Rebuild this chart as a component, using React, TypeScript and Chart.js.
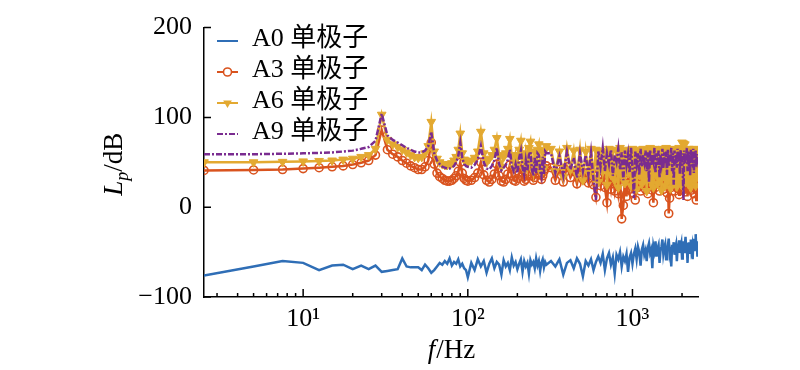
import React, { useEffect, useRef } from 'react';
import { Chart, registerables } from 'chart.js';

Chart.register(...registerables);

// Frequencies (Hz)
const freqs = [
  2.5, 5, 7.5, 10, 12.5, 15, 17.5, 20, 22.5, 25,
  27.5, 30, 32.5, 35, 37.5, 40, 42.5, 45, 47.5, 50,
  52.5, 55, 57.5, 60, 62.5, 65, 67.5, 70, 72.5, 75,
  77.5, 80, 82.5, 85, 87.5, 90, 92.5, 95, 97.5, 100,
  105, 110, 115, 120, 125, 130, 135, 140, 145, 150,
  155, 160, 165, 170, 175, 180, 185, 190, 195, 200,
  205, 210, 215, 220, 225, 230, 235, 240, 245, 250,
  255, 260, 265, 270, 275, 280, 285, 290, 295, 300,
  320, 340, 360, 380, 400, 420, 440, 460, 480, 500,
  520, 540, 560, 580, 600, 620, 640, 660, 680, 700,
  720, 740, 760, 780, 800, 820, 840, 860, 880, 900,
  920, 940, 960, 980, 1000, 1020, 1040, 1060, 1080, 1100,
  1120, 1140, 1160, 1180, 1200, 1220, 1240, 1260, 1280, 1300,
  1320, 1340, 1360, 1380, 1400, 1420, 1440, 1460, 1480, 1500,
  1520, 1540, 1560, 1580, 1600, 1620, 1640, 1660, 1680, 1700,
  1720, 1740, 1760, 1780, 1800, 1820, 1840, 1860, 1880, 1900,
  1920, 1940, 1960, 1980, 2000, 2020, 2040, 2060, 2080, 2100,
  2120, 2140, 2160, 2180, 2200, 2220, 2240, 2260, 2280, 2300,
  2320, 2340, 2360, 2380, 2400, 2420, 2440, 2460, 2480, 2500,
];

// A0 单极子 (dB)
const a0 = [
  -76, -66, -60, -62, -70, -65, -64, -69, -65, -69,
  -65, -72, -71, -70, -69, -57, -66, -67, -67, -67,
  -70, -64, -68, -73, -70, -66, -62, -64, -60, -63,
  -57, -65, -61, -63, -58, -66, -63, -68, -70, -78,
  -62, -70, -58, -66, -60, -73, -63, -57, -68, -61,
  -64, -75, -59, -66, -62, -70, -56, -65, -61, -69,
  -63, -58, -72, -60, -66, -62, -74, -59, -64, -61,
  -68, -57, -65, -60, -71, -62, -58, -67, -61, -64,
  -60, -66, -58, -75, -62, -59, -68, -57, -63, -77,
  -60, -65, -58, -70, -61, -55, -62, -52, -70, -57,
  -51, -64, -56, -74, -53, -58, -50, -66, -55, -60,
  -52, -72, -56, -51, -63, -52, -46, -58, -44, -50,
  -65, -47, -42, -53, -48, -60, -45, -40, -51, -47,
  -68, -43, -49, -38, -55, -46, -42, -62, -48, -44,
  -36, -52, -45, -41, -58, -47, -43, -35, -50, -44,
  -66, -42, -48, -39, -53, -45, -41, -60, -46, -43,
  -37, -51, -44, -40, -57, -45, -38, -50, -42, -33,
  -48, -44, -62, -41, -39, -52, -45, -36, -47, -43,
  -58, -40, -35, -49, -44, -30, -46, -42, -55, -38,
];

// A3 单极子 (dB)
const a3 = [
  41, 41.5, 42, 43, 44, 45, 46, 47.5, 49.5, 52,
  58, 86, 64, 59, 56, 52, 49, 46, 44, 42,
  42, 45, 52, 72, 48, 38, 34, 32, 30, 29,
  29, 30, 32, 35, 40, 50, 38, 32, 30, 29,
  30, 33, 38, 50, 36, 30, 28, 31, 37, 48,
  35, 29, 28, 31, 37, 47, 35, 30, 29, 32,
  38, 46, 34, 29, 31, 35, 40, 46, 35, 30,
  33, 38, 42, 45, 36, 31, 35, 40, 43, 46,
  44, 30, 42, 28, 45, 33, 40, 26, 43, 31,
  38, 27, 41, 25, 11, 36, 24, 40, 22, 5,
  34, 20, 38, 18, 30, 15, 33, -13, 2, 30,
  12, 35, 20, 38, 16, 32, 8, 36, 22, 40,
  18, 34, 25, 41, 20, 37, 15, 39, 24, 35,
  19, 5, 38, 22, 41, 26, 36, 18, 42, 24,
  39, 20, 37, 27, 40, 16, 35, -7, 10, 36,
  22, 40, 25, 38, 18, 43, 27, 35, 21, 39,
  14, 41, 26, 37, 20, 44, 24, 38, 17, 40,
  28, 36, 12, 42, 25, 39, 21, 37, 19, 43,
  23, 40, 15, 38, 26, 35, 8, 34, 40, 30,
];

// A6 单极子 (dB)
const a6 = [
  50, 50, 50.5, 51, 51.5, 52, 53, 54, 56, 58,
  65, 103, 75, 70, 67, 64, 61, 58, 56, 55,
  56, 60, 68, 95, 62, 54, 50, 48, 47, 47,
  48, 49, 52, 56, 64, 82, 60, 53, 50, 50,
  52, 55, 62, 84, 60, 50, 54, 58, 64, 77,
  58, 45, 56, 60, 65, 76, 57, 44, 58, 48,
  64, 74, 55, 42, 60, 46, 66, 73, 52, 40,
  62, 44, 64, 70, 50, 38, 62, 43, 64, 68,
  65, 40, 62, 34, 66, 42, 63, 36, 64, 30,
  62, 38, 65, 33, 64, 28, 63, 40, 62, 25,
  65, 36, 64, 30, 63, 22, 66, 35, 62, 27,
  64, 38, 63, 24, 65, 32, 62, 20, 64, 36,
  63, 26, 65, 30, 62, 18, 64, 34, 66, 28,
  63, 22, 65, 37, 62, 26, 64, 31, 63, 19,
  65, 35, 62, 24, 66, 29, 63, 33, 64, 21,
  62, 36, 65, 27, 63, 30, 64, 23, 62, 35,
  66, 28, 63, 25, 72, 30, 71, 35, 70, 28,
  64, 33, 63, 26, 65, 31, 62, 22, 64, 36,
  63, 27, 65, 30, 62, 24, 64, 34, 63, 38,
];

// A9 单极子 (dB)
const a9 = [
  59, 59, 59.5, 60, 60.5, 61, 62, 63, 65, 67,
  74, 104, 80, 75, 72, 69, 66, 64, 62, 61,
  61, 63, 68, 84, 60, 52, 48, 45, 44, 43,
  43, 44, 46, 50, 57, 72, 55, 48, 46, 45,
  44, 47, 53, 68, 50, 43, 42, 46, 52, 66,
  48, 41, 44, 47, 53, 64, 46, 40, 48, 38,
  55, 63, 44, 36, 52, 40, 58, 62, 42, 35,
  55, 38, 60, 58, 40, 34, 56, 37, 62, 60,
  60, 38, 57, 35, 62, 42, 55, 33, 60, 40,
  58, 36, 61, 30, 8, 62, 45, 66, 40, 60,
  48, 64, 35, 58, 50, 65, 42, 61, 30, 63,
  47, 59, 38, 66, 44, 10, 62, 48, 60, 36,
  65, 45, 58, 50, 63, 40, 61, 28, 64, 46,
  59, 52, 66, 38, 60, 47, 63, 33, 58, 50,
  65, 43, 61, 49, 62, 36, 64, 45, 59, 51,
  66, 40, 60, 25, 63, 48, 58, 44, 65, 50,
  61, 37, 64, 47, 60, 42, 8, 63, 48, 60,
  52, 66, 40, 62, 46, 58, 35, 64, 50, 61,
  44, 65, 38, 60, 49, 63, 45, 59, 52, 55,
];

const seriesNames = ['A0 单极子', 'A3 单极子', 'A6 单极子', 'A9 单极子'];
const yTicks = [-100, 0, 100, 200];
const xMajor = [10, 100, 1000];
const xTickLabels: Record<number, string> = { 10: '10¹', 100: '10²', 1000: '10³' };
const xMinor = [3, 4, 5, 6, 7, 8, 9, 20, 30, 40, 50, 60, 70, 80, 90, 200, 300, 400, 500, 600, 700, 800, 900, 2000];
const xTitle = ['f', '/Hz'];
const yTitle = ['L', 'p', '/dB'];

const BLUE = '#2f6eb6';
const RED = '#d9531e';
const GOLD = '#e3a931';
const PURPLE = '#7a2c90';
const SERIF = "'Liberation Serif', 'Times New Roman', serif";
const LEGEND_FONT = "26px 'Liberation Serif', 'Noto Sans CJK SC', serif";

const toPts = (ys: number[]) => freqs.map((f, i) => ({ x: f, y: ys[i] }));

const decoPlugin = {
  id: 'deco',
  afterDraw(chart: any) {
    const { ctx, chartArea, scales } = chart;
    const xs = scales.x;
    const ys = scales.y;
    ctx.save();
    // inward ticks
    ctx.strokeStyle = '#000';
    ctx.lineWidth = 1.5;
    ctx.beginPath();
    yTicks.forEach((v) => {
      const py = ys.getPixelForValue(v);
      ctx.moveTo(chartArea.left, py);
      ctx.lineTo(chartArea.left + 7, py);
    });
    xMajor.forEach((v) => {
      const px = xs.getPixelForValue(v);
      ctx.moveTo(px, chartArea.bottom);
      ctx.lineTo(px, chartArea.bottom - 8);
    });
    xMinor.forEach((v) => {
      const px = xs.getPixelForValue(v);
      ctx.moveTo(px, chartArea.bottom);
      ctx.lineTo(px, chartArea.bottom - 4);
    });
    ctx.stroke();

    // axis titles
    ctx.fillStyle = '#000';
    ctx.textBaseline = 'alphabetic';
    const fIt = `italic 27px ${SERIF}`;
    const fRe = `27px ${SERIF}`;
    const fSub = `italic 18px ${SERIF}`;
    ctx.font = fIt;
    const wf = ctx.measureText(xTitle[0]).width;
    ctx.font = fRe;
    const wh = ctx.measureText(xTitle[1]).width;
    const xc = (chartArea.left + chartArea.right) / 2;
    const sx = xc - (wf + wh) / 2;
    ctx.font = fIt;
    ctx.fillText(xTitle[0], sx, 358);
    ctx.font = fRe;
    ctx.fillText(xTitle[1], sx + wf + 1, 358);

    ctx.save();
    ctx.translate(113, (chartArea.top + chartArea.bottom) / 2 + 2);
    ctx.rotate(-Math.PI / 2);
    ctx.font = fIt;
    const wL = ctx.measureText(yTitle[0]).width;
    ctx.font = fSub;
    const wp = ctx.measureText(yTitle[1]).width;
    ctx.font = fRe;
    const wd = ctx.measureText(yTitle[2]).width;
    const s0 = -(wL + wp + wd) / 2;
    ctx.font = fIt;
    ctx.fillText(yTitle[0], s0, 9);
    ctx.font = fSub;
    ctx.fillText(yTitle[1], s0 + wL, 15);
    ctx.font = fRe;
    ctx.fillText(yTitle[2], s0 + wL + wp, 9);
    ctx.restore();

    // legend
    const rows = [39, 70, 101, 132];
    const lx0 = 217, lx1 = 238, tx = 252;
    chart.data.datasets.forEach((ds: any, i: number) => {
      const y = rows[i];
      const ly = y + 2;
      ctx.strokeStyle = ds.borderColor;
      ctx.lineWidth = 2;
      ctx.setLineDash(ds.borderDash || []);
      ctx.beginPath();
      ctx.moveTo(lx0, ly);
      ctx.lineTo(lx1, ly);
      ctx.stroke();
      ctx.setLineDash([]);
      const mx = (lx0 + lx1) / 2;
      if (ds.pointStyle === 'circle' && ds.pointRadius > 0) {
        ctx.beginPath();
        ctx.arc(mx, ly, ds.pointRadius, 0, Math.PI * 2);
        ctx.fillStyle = '#fff';
        ctx.fill();
        ctx.lineWidth = ds.pointBorderWidth;
        ctx.stroke();
      } else if (ds.pointStyle === 'triangle' && ds.pointRadius > 0) {
        const r = ds.pointRadius;
        ctx.beginPath();
        ctx.moveTo(mx, ly + r);
        ctx.lineTo(mx - r * 0.866, ly - r / 2);
        ctx.lineTo(mx + r * 0.866, ly - r / 2);
        ctx.closePath();
        ctx.fillStyle = ds.pointBackgroundColor;
        ctx.fill();
      }
      ctx.fillStyle = '#000';
      ctx.font = LEGEND_FONT;
      ctx.textBaseline = 'middle';
      ctx.fillText(ds.label, tx, y);
    });
    ctx.restore();
  },
};

export default function App() {
  const ref = useRef<HTMLCanvasElement | null>(null);
  useEffect(() => {
    if (!ref.current) return;
    const chart = new Chart(ref.current, {
      type: 'line',
      data: {
        datasets: [
          {
            label: seriesNames[0],
            data: toPts(a0),
            borderColor: BLUE,
            borderWidth: 2.5,
            pointRadius: 0,
            pointStyle: 'line',
            order: 3,
          },
          {
            label: seriesNames[1],
            data: toPts(a3),
            borderColor: RED,
            borderWidth: 2.5,
            pointStyle: 'circle',
            pointRadius: 4,
            pointBorderWidth: 1.6,
            pointBorderColor: RED,
            pointBackgroundColor: 'rgba(255,255,255,0)',
            order: 2,
          },
          {
            label: seriesNames[2],
            data: toPts(a6),
            borderColor: GOLD,
            borderWidth: 2.5,
            pointStyle: 'triangle',
            rotation: 180,
            pointRadius: 5,
            pointBorderWidth: 1,
            pointBorderColor: GOLD,
            pointBackgroundColor: GOLD,
            order: 1,
          },
          {
            label: seriesNames[3],
            data: toPts(a9),
            borderColor: PURPLE,
            borderWidth: 2.5,
            borderDash: [6, 2, 2, 2],
            pointRadius: 0,
            pointStyle: 'line',
            order: 0,
          },
        ] as any,
      },
      options: {
        animation: false,
        responsive: false,
        layout: { padding: { top: 18, right: 102, left: 0, bottom: 0 } },
        plugins: { legend: { display: false }, tooltip: { enabled: false } },
        scales: {
          x: {
            type: 'logarithmic',
            min: 2.5,
            max: 2500,
            afterBuildTicks: (s: any) => {
              s.ticks = xMajor.map((v) => ({ value: v, major: true }));
            },
            afterFit: (s: any) => {
              s.height = 73;
            },
            grid: { display: false, drawTicks: false },
            border: { display: true, color: '#000', width: 1.5 },
            ticks: {
              autoSkip: false,
              maxRotation: 0,
              padding: 7,
              color: '#000',
              font: { family: SERIF, size: 26 },
              callback: (v: any) => xTickLabels[Number(v)] ?? '',
            },
          },
          y: {
            min: -100,
            max: 200,
            afterBuildTicks: (s: any) => {
              s.ticks = yTicks.map((v) => ({ value: v }));
            },
            afterFit: (s: any) => {
              s.width = 204;
            },
            grid: { display: false, drawTicks: false },
            border: { display: true, color: '#000', width: 1.5 },
            ticks: {
              padding: 12,
              color: '#000',
              font: { family: SERIF, size: 26 },
              callback: (v: any) => (Number(v) < 0 ? '−' + Math.abs(Number(v)) : String(v)),
            },
          },
        },
      } as any,
      plugins: [decoPlugin],
    });
    return () => chart.destroy();
  }, []);
  return (
    <div style={{ position: 'absolute', left: 0, top: 0, width: 800, height: 370, background: '#fff' }}>
      <canvas ref={ref} width={800} height={370} style={{ display: 'block' }} />
    </div>
  );
}
